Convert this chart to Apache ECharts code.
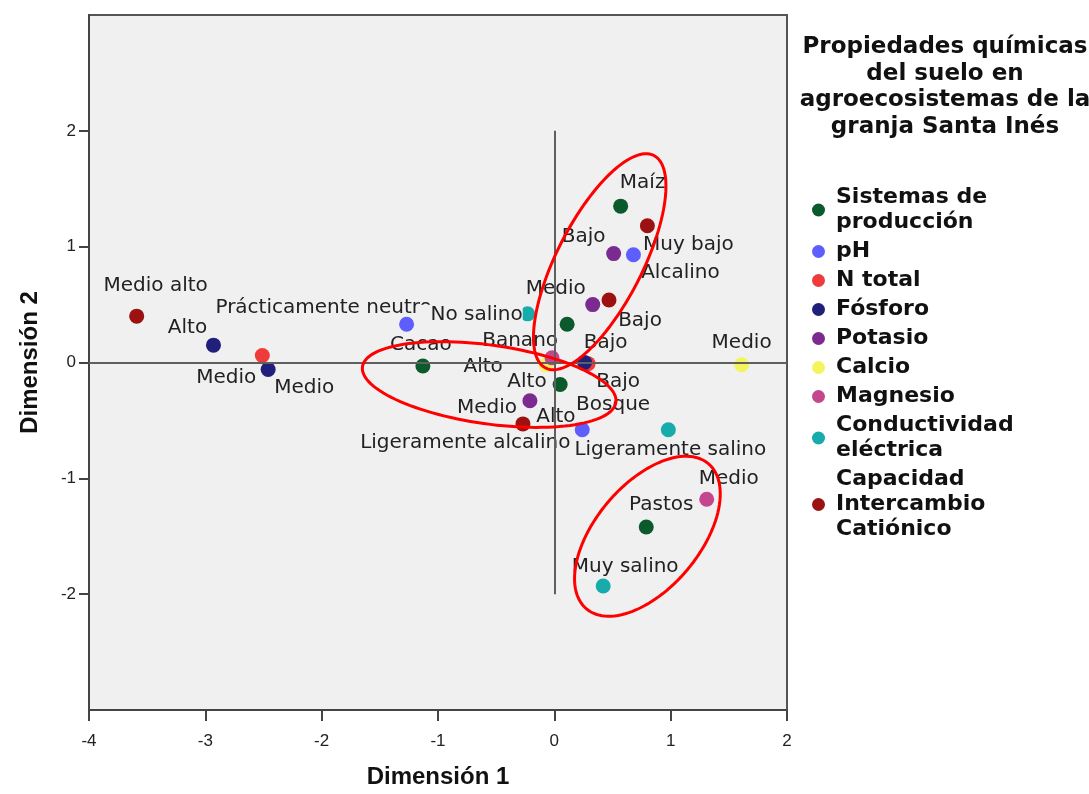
<!DOCTYPE html>
<html><head><meta charset="utf-8">
<script src="https://cdn.jsdelivr.net/npm/echarts@6/dist/echarts.min.js"></script>
<style>html,body{margin:0;padding:0;background:#fff}#c{width:1089px;height:794px}</style>
</head><body><div id="c"></div>
<script>
// ---- data ----
const groups = ['Sistemas de producción','pH','N total','Fósforo','Potasio','Calcio','Magnesio','Conductividad eléctrica','Capacidad Intercambio Catiónico'];
const legendLabels = ['Sistemas de\nproducción','pH','N total','Fósforo','Potasio','Calcio','Magnesio','Conductividad\neléctrica','Capacidad\nIntercambio\nCatiónico'];

const sistemasLabels = ['Maíz','Banano','Cacao','Bosque','Pastos'];
const sistemasPoints = [[0.57,1.35],[0.11,0.33],[-1.13,-0.03],[0.05,-0.19],[0.79,-1.42]];
const phLabels = ['Prácticamente neutro','Alcalino','Ligeramente alcalino'];
const phPoints = [[-1.27,0.33],[0.68,0.93],[0.24,-0.58]];
const nLabels = ['Medio','Bajo'];
const nPoints = [[-2.51,0.06],[0.29,-0.01]];
const fosforoLabels = ['Alto','Medio','Bajo'];
const fosforoPoints = [[-2.93,0.15],[-2.46,-0.06],[0.26,0.0]];
const potasioLabels = ['Bajo','Medio','Alto'];
const potasioPoints = [[0.51,0.94],[0.33,0.50],[-0.21,-0.33]];
const calcioLabels = ['Alto','Medio'];
const calcioPoints = [[-0.07,-0.02],[1.61,-0.02]];
const magnesioLabels = ['Alto','Medio'];
const magnesioPoints = [[-0.02,0.04],[1.31,-1.18]];
const ceLabels = ['No salino','Ligeramente salino','Muy salino'];
const cePoints = [[-0.23,0.42],[0.98,-0.58],[0.42,-1.93]];
const cicLabels = ['Muy bajo','Medio alto','Bajo','Medio'];
const cicPoints = [[0.80,1.18],[-3.59,0.40],[0.47,0.54],[-0.27,-0.53]];

const xTicks = [-4,-3,-2,-1,0,1,2];
const yTicks = [-2,-1,0,1,2];
const legendTitle = 'Propiedades químicas\ndel suelo en\nagroecosistemas de la\ngranja Santa Inés';

// ---- styling (label offsets in px, colours, annotation ellipses) ----
const colors = ['#0b5a2c','#5e5eff','#ef3b3b','#20207a','#7b2b8f','#f4f45e','#c4468f','#17abab','#9c1212'];
const labelOffsets = [
  [[22,-23],[-47,17],[-2,-21],[53,20],[15,-22]],
  [[-83,-16],[47,18],[-117,13]],
  [[-36,22],[30,18]],
  [[-26,-17],[36,18],[21,-20]],
  [[-30,-17],[-37,-16],[26,16]],
  [[-63,2],[0,-22]],
  [[-25,24],[22,-20]],
  [[-57,1],[2,20],[22,-19]],
  [[41,19],[19,-30],[31,21],[-36,-16]]
];
const labelBg = {'7-0': '#f0f0f0'};
// ellipses: center (data), semi-axes (data units), angle (deg)
const ellipses = [
  {c:[0.39,0.87], a:1.025, b:0.37, ang:63},
  {c:[-0.56,-0.19], a:1.10, b:0.34, ang:-8},
  {c:[0.80,-1.50], a:0.815, b:0.45, ang:50}
];

const labelSets = [sistemasLabels, phLabels, nLabels, fosforoLabels, potasioLabels, calcioLabels, magnesioLabels, ceLabels, cicLabels];
const pointSets = [sistemasPoints, phPoints, nPoints, fosforoPoints, potasioPoints, calcioPoints, magnesioPoints, cePoints, cicPoints];

const series = [{
  type: 'line', name: '__ref', data: [], z: 1, silent: true,
  markLine: {
    symbol: 'none', silent: true, animation: false,
    label: {show: false},
    lineStyle: {color: '#5f5f5f', width: 2, type: 'solid'},
    data: [
      [{coord: [xTicks[0], 0]}, {coord: [xTicks[xTicks.length-1], 0]}],
      [{coord: [0, yTicks[0]]}, {coord: [0, yTicks[yTicks.length-1]]}]
    ]
  }
}];
groups.forEach((g, gi) => {
  series.push({
    type: 'scatter', name: g, z: 3,
    symbol: 'circle', symbolSize: 15,
    itemStyle: {color: colors[gi], opacity: 1},
    data: pointSets[gi].map((p, i) => {
      const lbl = {offset: labelOffsets[gi][i]};
      if (labelBg[gi + '-' + i]) { lbl.backgroundColor = labelBg[gi + '-' + i]; lbl.padding = [0, 0, 0, 12]; }
      return {value: p, name: labelSets[gi][i], label: lbl};
    }),
    label: {
      show: true, position: 'inside', formatter: '{b}',
      color: '#222', fontFamily: 'DejaVu Sans', fontSize: 20
    }
  });
});

const chart = echarts.init(document.getElementById('c'), null, {renderer: 'canvas'});
chart.setOption({
  animation: false,
  backgroundColor: '#ffffff',
  title: {
    text: legendTitle, left: 940, top: 29, textAlign: 'center',
    textStyle: {fontFamily: 'DejaVu Sans', fontWeight: 'bold', fontSize: 23, lineHeight: 26.5, color: '#111'}
  },
  legend: {
    orient: 'vertical', left: 812, top: 185, padding: 0, itemGap: 4,
    itemWidth: 25, itemHeight: 13, icon: 'circle',
    data: groups,
    formatter: n => legendLabels[groups.indexOf(n)],
    textStyle: {fontFamily: 'DejaVu Sans', fontWeight: 'bold', fontSize: 22, lineHeight: 25, color: '#111'}
  },
  grid: {left: 89, top: 15, width: 698, height: 700, show: true, backgroundColor: '#f0f0f0', borderColor: '#555', borderWidth: 2},
  xAxis: {
    type: 'value', min: -4, max: 2, interval: 1,
    name: 'Dimensión 1', nameLocation: 'middle', nameGap: 55,
    nameTextStyle: {fontFamily: 'Liberation Sans', fontWeight: 'bold', fontSize: 24, color: '#111'},
    axisLine: {show: true, onZero: false, lineStyle: {color: '#444', width: 2}},
    axisTick: {show: true, length: 11, lineStyle: {color: '#444', width: 2}},
    axisLabel: {fontFamily: 'Liberation Sans', fontSize: 17, color: '#222', margin: 23},
    splitLine: {show: false}
  },
  yAxis: {
    type: 'value', min: -3, max: 3, interval: 1,
    name: 'Dimensión 2', nameLocation: 'middle', nameGap: 47,
    nameTextStyle: {fontFamily: 'Liberation Sans', fontWeight: 'bold', fontSize: 24, color: '#111'},
    axisLine: {show: true, onZero: false, lineStyle: {color: '#444', width: 2}},
    axisTick: {show: true, length: 10, customValues: yTicks, lineStyle: {color: '#444', width: 2}},
    axisLabel: {fontFamily: 'Liberation Sans', fontSize: 17, color: '#222', margin: 13, customValues: yTicks},
    splitLine: {show: false}
  },
  series: series
});

// annotation ellipses
const o = chart.convertToPixel({gridIndex: 0}, [0, 0]);
const u = chart.convertToPixel({gridIndex: 0}, [1, 1]);
const sx = u[0] - o[0], sy = o[1] - u[1];
const graphics = ellipses.map(e => {
  const c = chart.convertToPixel({gridIndex: 0}, e.c);
  const th = e.ang * Math.PI / 180;
  const pts = [];
  for (let k = 0; k < 120; k++) {
    const t = k / 120 * Math.PI * 2;
    const ex = e.a * sx * Math.cos(t), ey = e.b * sy * Math.sin(t);
    pts.push([c[0] + ex * Math.cos(th) - ey * Math.sin(th), c[1] - (ex * Math.sin(th) + ey * Math.cos(th))]);
  }
  return {type: 'polygon', shape: {points: pts}, style: {fill: 'none', stroke: '#ff0000', lineWidth: 3}, z: 100, silent: true};
});
chart.setOption({graphic: graphics});
</script>
</body></html>
